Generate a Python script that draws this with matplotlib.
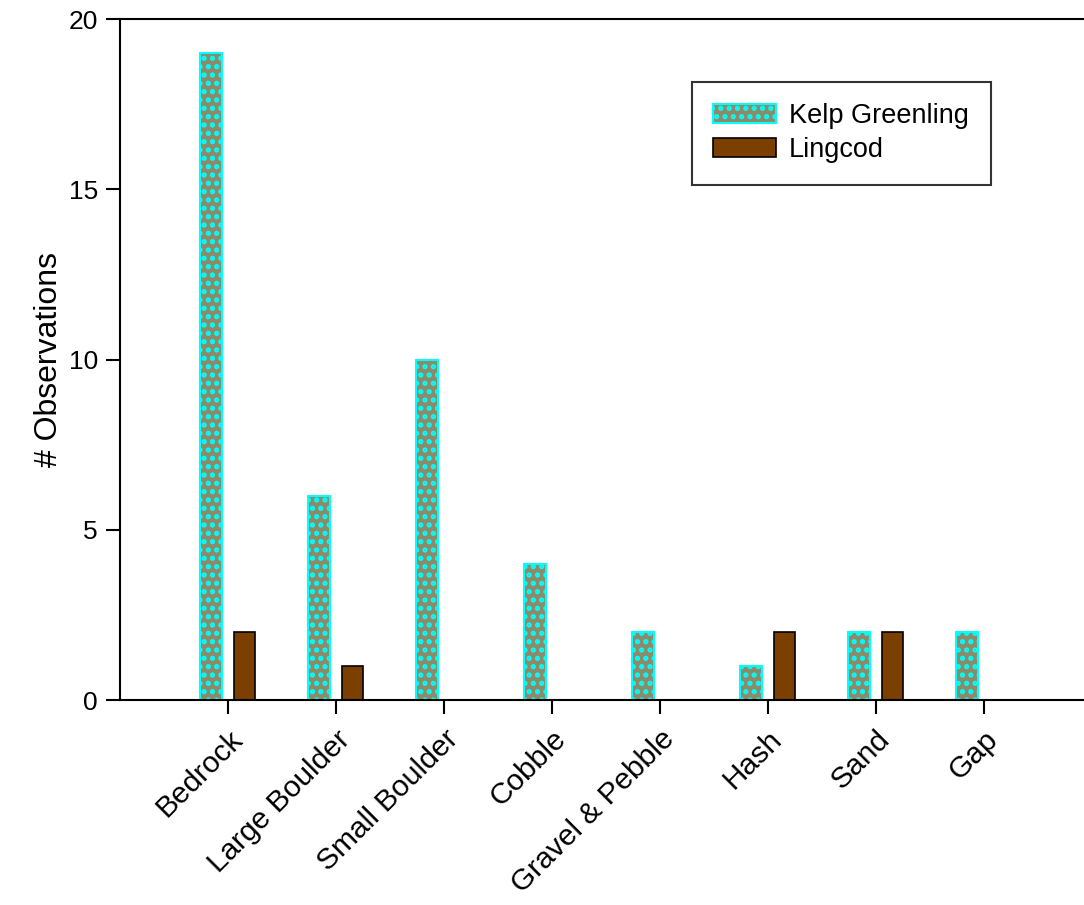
import numpy as np
import matplotlib.pyplot as plt

plt.rcParams['font.family'] = ['Liberation Sans', 'DejaVu Sans']
plt.rcParams['hatch.linewidth'] = 2.5

categories = ['Bedrock', 'Large Boulder', 'Small Boulder', 'Cobble',
              'Gravel & Pebble', 'Hash', 'Sand', 'Gap']
kelp_greenling = [19, 6, 10, 4, 2, 1, 2, 2]
lingcod = [2, 1, 0, 0, 0, 2, 2, 0]

fig = plt.figure(figsize=(10.84, 9.05), dpi=100)
ax = fig.add_axes([0.1107, 0.2265, 0.8893, 0.7525])

x = np.arange(len(categories))
w = 0.2
ax.bar(x - 0.155, kelp_greenling, w, color='#8c8a68', edgecolor='#00ffff',
       hatch='..', linewidth=1.5, label='Kelp Greenling')
lc = [v if v > 0 else np.nan for v in lingcod]
ax.bar(x + 0.155, lc, w, color='#7b3f00', edgecolor='black',
       linewidth=1.2, label='Lingcod')

ax.set_xlim(-1, 7.93)
ax.set_ylim(0, 20)
ax.set_yticks([0, 5, 10, 15, 20])
ax.set_xticks(x)
ax.set_xticklabels(categories, rotation=45, ha='right', rotation_mode='anchor')
ax.tick_params(axis='both', direction='out', length=10, width=1.5)
ax.tick_params(axis='y', labelsize=19, pad=6)
ax.tick_params(axis='x', labelsize=21.5, pad=8)
ax.set_ylabel('# Observations', fontsize=23, labelpad=3)
ax.spines['right'].set_visible(False)
for s in ['left', 'bottom', 'top']:
    ax.spines[s].set_linewidth(1.5)

leg = ax.legend(loc='upper left', bbox_to_anchor=(0.593, 0.908), fontsize=19.5,
                frameon=True, fancybox=False, edgecolor='black',
                handlelength=2.3, handleheight=0.7, borderpad=0.8,
                labelspacing=0.3, handletextpad=0.5, borderaxespad=0)
leg.get_frame().set_linewidth(1.5)

fig.savefig('out.png', dpi=100)
